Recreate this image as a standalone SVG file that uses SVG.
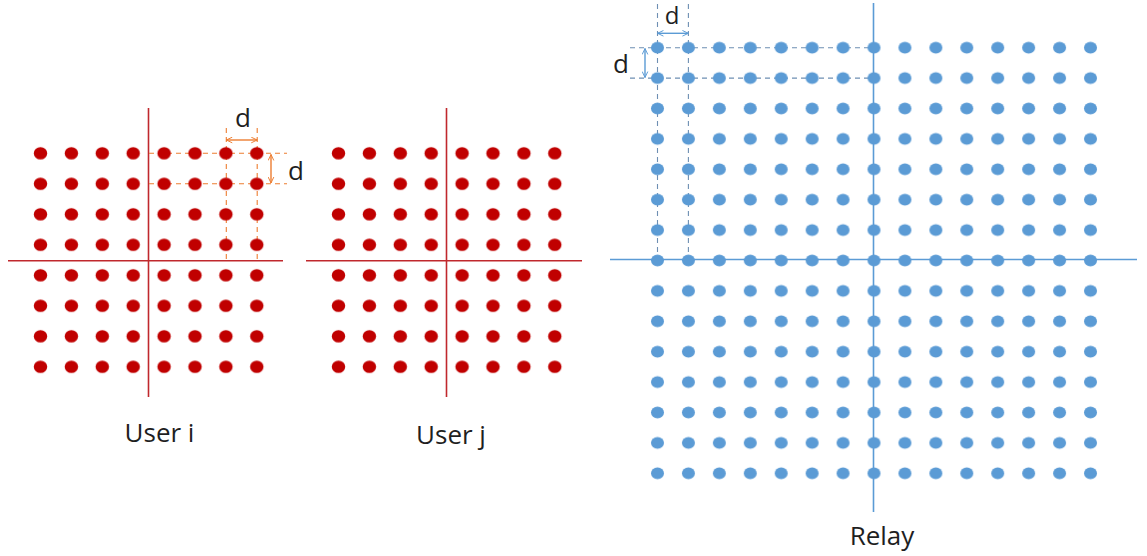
<svg xmlns="http://www.w3.org/2000/svg" width="1147" height="556" viewBox="0 0 1147 556">
  <style>
    .lbl { font-family: "Open Sans", "Noto Sans", sans-serif; font-size: 26px; fill: #1f1f1f; text-anchor: middle; }
    .raxis { stroke: #C0282D; stroke-width: 1.6; fill: none; }
    .baxis { stroke: #5B9BD5; stroke-width: 1.6; fill: none; }
    .odash { stroke: #ED7D31; stroke-width: 1.1; stroke-dasharray: 5 4; fill: none; }
    .bdash { stroke: #6E8FB3; stroke-width: 1.1; stroke-dasharray: 5 4; fill: none; }
    .oarr { stroke: #ED7D31; stroke-width: 1.4; fill: none; marker-start: url(#oHead); marker-end: url(#oHead); }
    .barr { stroke: #5B9BD5; stroke-width: 1.4; fill: none; marker-start: url(#bHead); marker-end: url(#bHead); }
  </style>
  <defs>
    <marker id="oHead" viewBox="0 0 10 10" refX="9.5" refY="5" markerWidth="7" markerHeight="7" markerUnits="userSpaceOnUse" orient="auto-start-reverse">
      <path d="M1,1 L9.5,5 L1,9" fill="none" stroke="#ED7D31" stroke-width="1.4"/>
    </marker>
    <marker id="bHead" viewBox="0 0 10 10" refX="9.5" refY="5" markerWidth="7" markerHeight="7" markerUnits="userSpaceOnUse" orient="auto-start-reverse">
      <path d="M1,1 L9.5,5 L1,9" fill="none" stroke="#5B9BD5" stroke-width="1.4"/>
    </marker>
    <pattern id="redDots" patternUnits="userSpaceOnUse" x="0" y="0" width="30.9" height="30.5">
      <ellipse cx="15.45" cy="15.25" rx="6.7" ry="6.2" fill="#C00000"/>
    </pattern>
    <pattern id="blueDots" patternUnits="userSpaceOnUse" x="0" y="0" width="30.93" height="30.4">
      <ellipse cx="15.465" cy="15.2" rx="6.5" ry="6" fill="#5B9BD5"/>
    </pattern>
  </defs>

  <g id="connectors">
    <!-- User i axes -->
    <line class="raxis" x1="148.5" y1="108" x2="148.5" y2="397"/>
    <line class="raxis" x1="8" y1="260.7" x2="283" y2="260.7"/>
    <!-- User j axes -->
    <line class="raxis" x1="446.5" y1="108" x2="446.5" y2="397"/>
    <line class="raxis" x1="306" y1="260.7" x2="582" y2="260.7"/>
    <!-- Relay axes -->
    <line class="baxis" x1="873.5" y1="3" x2="873.5" y2="512"/>
    <line class="baxis" x1="610" y1="259.5" x2="1137" y2="259.5"/>
    <!-- User i dashed guides -->
    <line class="odash" x1="149" y1="153.3" x2="287" y2="153.3"/>
    <line class="odash" x1="149" y1="183.8" x2="287" y2="183.8"/>
    <line class="odash" x1="226.3" y1="128" x2="226.3" y2="263"/>
    <line class="odash" x1="257.2" y1="128" x2="257.2" y2="263"/>
    <!-- Relay dashed guides -->
    <line class="bdash" x1="630" y1="47.7" x2="873" y2="47.7"/>
    <line class="bdash" x1="630" y1="78.1" x2="873" y2="78.1"/>
    <line class="bdash" x1="657.5" y1="4" x2="657.5" y2="259"/>
    <line class="bdash" x1="688.4" y1="4" x2="688.4" y2="259"/>
  </g>

  <g id="user-i">
    <rect x="0" y="0" width="247.2" height="244" fill="url(#redDots)" transform="translate(25.05,138.05)"/>
    <text class="lbl" x="159.5" y="442">User i</text>
  </g>

  <g id="user-j">
    <rect x="0" y="0" width="247.2" height="244" fill="url(#redDots)" transform="translate(323.05,138.05)"/>
    <text class="lbl" x="451" y="444">User j</text>
  </g>

  <g id="relay">
    <rect x="0" y="0" width="463.95" height="456" fill="url(#blueDots)" transform="translate(642.035,32.5)"/>
    <text class="lbl" x="882" y="545">Relay</text>
  </g>

  <g id="spacing-user-i">
    <line class="oarr" x1="226.3" y1="140" x2="257.2" y2="140"/>
    <line class="oarr" x1="271" y1="154.5" x2="271" y2="183"/>
    <text class="lbl" x="243" y="127">d</text>
    <text class="lbl" x="296" y="180">d</text>
  </g>

  <g id="spacing-relay">
    <line class="barr" x1="657.5" y1="33.3" x2="688.4" y2="33.3"/>
    <line class="barr" x1="645" y1="48.5" x2="645" y2="77.5"/>
    <text class="lbl" x="672" y="24" style="font-size:24px">d</text>
    <text class="lbl" x="621" y="73">d</text>
  </g>
</svg>
